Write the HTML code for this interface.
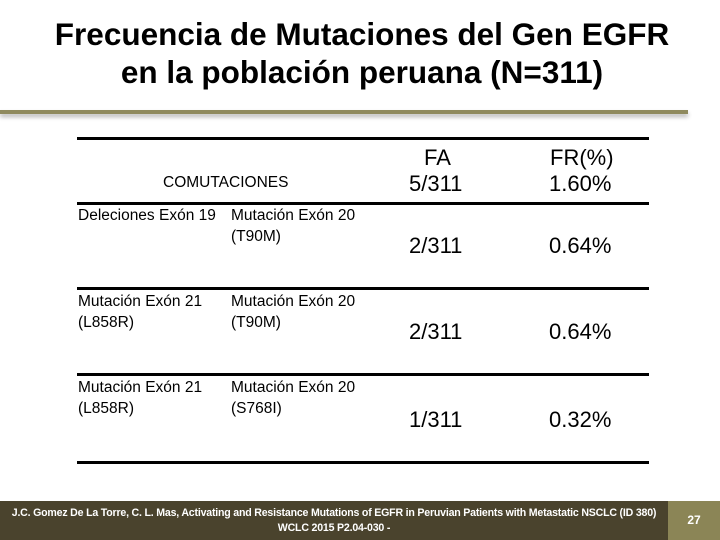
<!DOCTYPE html>
<html><head><meta charset="utf-8"><style>
body{margin:0;width:720px;height:540px;position:relative;background:#fff;font-family:"Liberation Sans",sans-serif;overflow:hidden}
.t{position:absolute;white-space:nowrap}
.title{left:2px;width:720px;text-align:center;top:15px;font-size:31.5px;font-weight:bold;line-height:38px;color:#000}
.hl{position:absolute;left:77px;width:572px;height:3px;background:#000}
.s{font-size:15.5px;color:#000;line-height:21px}
.b{font-size:22px;color:#000}
</style></head><body>
<div class="t title">Frecuencia de Mutaciones del Gen EGFR<br>en la población peruana (N=311)</div>
<div style="position:absolute;left:0;top:110px;width:688px;height:4px;background:#8f8a5e;box-shadow:0 3px 4px rgba(0,0,0,0.3)"></div>
<div class="hl" style="top:137px"></div>
<div class="hl" style="top:202px"></div>
<div class="hl" style="top:287px"></div>
<div class="hl" style="top:373px"></div>
<div class="hl" style="top:461px"></div>
<div class="t b" style="left:424px;top:145px">FA</div>
<div class="t b" style="left:550px;top:145px">FR(%)</div>
<div class="t s" style="left:163px;top:172px">COMUTACIONES</div>
<div class="t b" style="left:409px;top:171px">5/311</div>
<div class="t b" style="left:549px;top:171px">1.60%</div>

<div class="t s" style="left:78px;top:205px">Deleciones Exón 19</div>
<div class="t s" style="left:231px;top:205px">Mutación Exón 20<br>(T90M)</div>
<div class="t b" style="left:409px;top:233px">2/311</div>
<div class="t b" style="left:549px;top:233px">0.64%</div>

<div class="t s" style="left:78px;top:291px">Mutación Exón 21<br>(L858R)</div>
<div class="t s" style="left:231px;top:291px">Mutación Exón 20<br>(T90M)</div>
<div class="t b" style="left:409px;top:319px">2/311</div>
<div class="t b" style="left:549px;top:319px">0.64%</div>

<div class="t s" style="left:78px;top:377px">Mutación Exón 21<br>(L858R)</div>
<div class="t s" style="left:231px;top:377px">Mutación Exón 20<br>(S768I)</div>
<div class="t b" style="left:409px;top:407px">1/311</div>
<div class="t b" style="left:549px;top:407px">0.32%</div>

<div style="position:absolute;left:0;top:501px;width:668px;height:39px;background:#4a432d">
<div style="text-align:center;color:#fff;font-size:10.6px;font-weight:bold;line-height:15px;padding-top:5px;letter-spacing:-0.2px">J.C. Gomez De La Torre, C. L. Mas, Activating and Resistance Mutations of EGFR in Peruvian Patients with Metastatic NSCLC (ID 380)<br>WCLC 2015 P2.04-030 -</div>
</div>
<div style="position:absolute;left:668px;top:501px;width:52px;height:39px;background:#8b8556;color:#fff;font-size:12px;font-weight:bold;text-align:center;line-height:39px">27</div>
</body></html>
